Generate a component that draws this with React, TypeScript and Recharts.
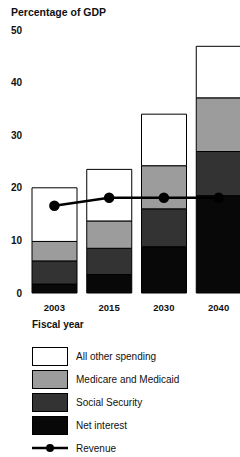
import React from 'react'
import { ComposedChart, Bar, Line, XAxis, YAxis } from 'recharts'

const years = ['2003', '2015', '2030', '2040']
const netInterest = [1.7, 3.5, 8.8, 18.5]
const socialSecurity = [4.4, 5.0, 7.2, 8.4]
const medicare = [3.7, 5.2, 8.2, 10.2]
const allOther = [10.2, 9.8, 9.8, 9.8]
const revenue = [16.6, 18.1, 18.1, 18.1]
const yTicks = [0, 10, 20, 30, 40, 50]

const data = years.map((y, i) => ({
  year: y,
  netInterest: netInterest[i],
  socialSecurity: socialSecurity[i],
  medicare: medicare[i],
  allOther: allOther[i],
  revenue: revenue[i],
}))

const font = '"Liberation Sans", Arial, sans-serif'

const legendItems = [
  { label: 'All other spending', fill: '#ffffff' },
  { label: 'Medicare and Medicaid', fill: '#9c9c9c' },
  { label: 'Social Security', fill: '#333333' },
  { label: 'Net interest', fill: '#080808' },
]

export default function App() {
  return (
    <div style={{ position: 'absolute', left: 0, top: 0, width: 240, height: 457, overflow: 'hidden', background: '#fff', fontFamily: font }}>
      <div style={{ position: 'absolute', left: 11, top: 6, fontSize: 10.5, fontWeight: 'bold', color: '#111' }}>Percentage of GDP</div>

      <div style={{ position: 'absolute', left: 0, top: 0 }}>
        <ComposedChart width={246} height={313} data={data} margin={{ top: 30, right: 0, left: 0, bottom: 0 }} barSize={45}>
          <XAxis dataKey="year" axisLine={false} tickLine={false} tickSize={0} tickMargin={11} height={20}
            tick={{ fill: '#111', fontSize: 9.5, fontWeight: 'bold', fontFamily: font }} />
          <YAxis domain={[0, 50]} ticks={yTicks} width={27} axisLine={false} tickLine={false} tickSize={0} tickMargin={5}
            tick={{ fill: '#111', fontSize: 10, fontWeight: 'bold', fontFamily: font }} />
          <Bar dataKey="netInterest" stackId="a" fill="#080808" stroke="#000" strokeWidth={1} isAnimationActive={false} />
          <Bar dataKey="socialSecurity" stackId="a" fill="#333333" stroke="#000" strokeWidth={1} isAnimationActive={false} />
          <Bar dataKey="medicare" stackId="a" fill="#9c9c9c" stroke="#000" strokeWidth={1} isAnimationActive={false} />
          <Bar dataKey="allOther" stackId="a" fill="#ffffff" stroke="#000" strokeWidth={1} isAnimationActive={false} />
          <Line dataKey="revenue" type="linear" stroke="#000" strokeWidth={2.5} dot={{ r: 4, fill: '#000', stroke: '#000' }} isAnimationActive={false} />
        </ComposedChart>
      </div>

      <div style={{ position: 'absolute', left: 32, top: 319, fontSize: 10, fontWeight: 'bold', color: '#111' }}>Fiscal year</div>

      {legendItems.map((it, i) => (
        <div key={it.label} style={{ position: 'absolute', left: 32, top: 347 + i * 23, display: 'flex', alignItems: 'center' }}>
          <div style={{ width: 34, height: 17, background: it.fill, border: '1px solid #000' }} />
          <span style={{ marginLeft: 8, fontSize: 10, color: '#111' }}>{it.label}</span>
        </div>
      ))}
      <div style={{ position: 'absolute', left: 32, top: 440, display: 'flex', alignItems: 'center' }}>
        <svg width={36} height={16}>
          <line x1={0} y1={8} x2={36} y2={8} stroke="#000" strokeWidth={2.5} />
          <circle cx={18} cy={8} r={4} fill="#000" />
        </svg>
        <span style={{ marginLeft: 8, fontSize: 10, color: '#111' }}>Revenue</span>
      </div>
    </div>
  )
}
